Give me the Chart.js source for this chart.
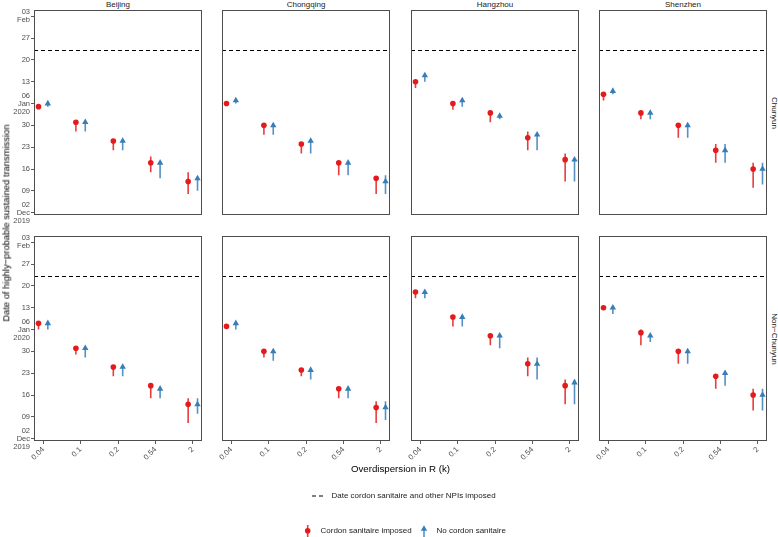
<!DOCTYPE html>
<html>
<head>
<meta charset="utf-8">
<script src="https://cdn.jsdelivr.net/npm/chart.js@4.4.1/dist/chart.umd.min.js"></script>
<style>
  body { margin: 0; background: #fff; }
  #fig { position: relative; width: 778px; height: 537px; overflow: hidden;
         font-family: "Liberation Sans", Arial, sans-serif; color: #1a1a1a; }
  #fig canvas { position: absolute; }
  .txt { position: absolute; white-space: nowrap; font-size: 8px; line-height: 1; }
</style>
</head>
<body>
<div id="fig"></div>
<script>
const cities = ['Beijing', 'Chongqing', 'Hangzhou', 'Shenzhen'];
const periods = ['Chunyun', 'Non\u2212Chunyun'];
const kLabels = ['0.04', '0.1', '0.2', '0.54', '2'];
const dateTicks = ['12-02', '12-09', '12-16', '12-23', '12-30', '01-06', '01-13', '01-20', '01-27', '02-03'];
const cordonDate = '01-23';

// rows: Beijing, Chongqing, Hangzhou, Shenzhen (Chunyun), then the same for Non-Chunyun
const cordonMid = [
  ['01-05', '12-31', '12-25', '12-18', '12-12'],
  ['01-06', '12-30', '12-24', '12-18', '12-13'],
  ['01-13', '01-06', '01-03', '12-26', '12-19'],
  ['01-09', '01-03', '12-30', '12-22', '12-16'],
  ['01-08', '12-31', '12-25', '12-19', '12-13'],
  ['01-07', '12-30', '12-24', '12-18', '12-12'],
  ['01-18', '01-10', '01-04', '12-26', '12-19'],
  ['01-13', '01-05', '12-30', '12-22', '12-16']
];
const cordonLow = [
  ['01-05', '12-28', '12-22', '12-15', '12-08'],
  ['01-06', '12-27', '12-21', '12-14', '12-08'],
  ['01-11', '01-04', '12-31', '12-22', '12-12'],
  ['01-07', '01-01', '12-26', '12-18', '12-10'],
  ['01-06', '12-29', '12-22', '12-15', '12-07'],
  ['01-07', '12-28', '12-22', '12-15', '12-07'],
  ['01-16', '01-07', '01-01', '12-22', '12-13'],
  ['01-13', '01-01', '12-26', '12-18', '12-11']
];
const cordonHigh = [
  ['01-05', '12-31', '12-25', '12-20', '12-15'],
  ['01-06', '12-30', '12-24', '12-18', '12-13'],
  ['01-13', '01-06', '01-03', '12-28', '12-21'],
  ['01-09', '01-03', '12-30', '12-24', '12-18'],
  ['01-08', '12-31', '12-25', '12-19', '12-15'],
  ['01-07', '12-30', '12-24', '12-18', '12-14'],
  ['01-18', '01-10', '01-04', '12-28', '12-21'],
  ['01-13', '01-06', '12-30', '12-22', '12-18']
];
const noCordonMid = [
  ['01-06', '12-31', '12-25', '12-18', '12-13'],
  ['01-07', '12-30', '12-25', '12-18', '12-12'],
  ['01-15', '01-07', '01-02', '12-27', '12-19'],
  ['01-10', '01-03', '12-30', '12-22', '12-16'],
  ['01-08', '12-31', '12-25', '12-18', '12-13'],
  ['01-08', '12-30', '12-24', '12-18', '12-12'],
  ['01-18', '01-10', '01-04', '12-26', '12-20'],
  ['01-13', '01-04', '12-30', '12-23', '12-16']
];
const noCordonLow = [
  ['01-05', '12-28', '12-22', '12-13', '12-09'],
  ['01-06', '12-27', '12-21', '12-14', '12-08'],
  ['01-13', '01-05', '01-01', '12-22', '12-12'],
  ['01-09', '01-01', '12-26', '12-18', '12-11'],
  ['01-06', '12-28', '12-22', '12-15', '12-10'],
  ['01-06', '12-27', '12-21', '12-15', '12-08'],
  ['01-16', '01-07', '12-31', '12-21', '12-13'],
  ['01-11', '01-02', '12-26', '12-19', '12-11']
];
const noCordonHigh = [
  ['01-06', '12-31', '12-25', '12-18', '12-13'],
  ['01-07', '12-30', '12-25', '12-18', '12-14'],
  ['01-15', '01-07', '01-02', '12-27', '12-19'],
  ['01-10', '01-03', '12-30', '12-24', '12-18'],
  ['01-08', '12-31', '12-25', '12-18', '12-15'],
  ['01-08', '12-30', '12-24', '12-18', '12-14'],
  ['01-18', '01-10', '01-04', '12-28', '12-21'],
  ['01-13', '01-04', '12-30', '12-23', '12-18']
];

const RED = '#E41A1C';
const BLUE = '#377EB8';
const monthNames = ['Jan', 'Feb', 'Mar', 'Apr', 'May', 'Jun', 'Jul', 'Aug', 'Sep', 'Oct', 'Nov', 'Dec'];

// days since 1 Dec 2019
function dayNum(s) {
  const [m, d] = s.split('-').map(Number);
  const t = m === 12 ? Date.UTC(2019, 11, d) : Date.UTC(2020, m - 1, d);
  return (t - Date.UTC(2019, 11, 1)) / 864e5;
}

function dateLabel(i) {
  const [m, d] = dateTicks[i].split('-');
  const prev = i > 0 ? dateTicks[i - 1].split('-')[0] : null;
  const lines = [d];
  if (m !== prev) lines.push(monthNames[Number(m) - 1]);
  if (prev === null || (m === '01' && prev === '12')) lines.push(m === '12' ? '2019' : '2020');
  return lines;
}

const xMin = -0.245, xMax = 4.245;
const yMin = 0.25, yMax = 66;
const dodge = 0.125;

const colLeft = [34, 222, 411, 599];
const rowTop = [10, 236];
const panelW = 168, panelH = 205;

const fig = document.getElementById('fig');

const panelBorder = {
  id: 'panelBorder',
  afterDraw(chart) {
    const { ctx, chartArea: a } = chart;
    ctx.save();
    ctx.strokeStyle = '#4d4d4d';
    ctx.lineWidth = 1;
    ctx.strokeRect(Math.round(a.left) + 0.5, Math.round(a.top) + 0.5,
      Math.round(a.right - a.left) - 1, Math.round(a.bottom - a.top) - 1);
    ctx.restore();
  }
};

function bars(lows, highs, shift) {
  const out = [];
  lows.forEach((lo, i) => {
    out.push({ x: i + shift, y: dayNum(lo) });
    out.push({ x: i + shift, y: dayNum(highs[i]) });
    out.push({ x: i + shift, y: null });
  });
  return out;
}

function points(mids, shift) {
  return mids.map((v, i) => ({ x: i + shift, y: dayNum(v) }));
}

function makePanel(r, c) {
  const p = r * 4 + c;
  const showY = c === 0, showX = r === 1;
  // room around the panel for tick labels (rotated k labels, "Dec 2019")
  const below = showX ? 24 : (showY ? 13 : 1);
  const before = showY ? colLeft[c] : (showX ? 14 : 1);
  const left = colLeft[c] - before;
  const top = rowTop[r] - 1;
  const width = colLeft[c] + panelW + 1 - left;
  const height = rowTop[r] + panelH + below - top;

  const canvas = document.createElement('canvas');
  canvas.width = width;
  canvas.height = height;
  canvas.style.left = left + 'px';
  canvas.style.top = top + 'px';
  canvas.style.width = width + 'px';
  canvas.style.height = height + 'px';
  fig.appendChild(canvas);

  const cut = dayNum(cordonDate);

  new Chart(canvas.getContext('2d'), {
    type: 'scatter',
    data: {
      datasets: [
        {
          data: points(noCordonMid[p], dodge),
          pointStyle: 'triangle', pointRadius: 3.7,
          backgroundColor: BLUE, borderColor: BLUE, borderWidth: 0
        },
        {
          data: points(cordonMid[p], -dodge),
          pointStyle: 'circle', pointRadius: 2.8,
          backgroundColor: RED, borderColor: RED, borderWidth: 0
        },
        {
          type: 'line', data: bars(noCordonLow[p], noCordonHigh[p], dodge),
          borderColor: 'rgba(55,126,184,0.85)', borderWidth: 1.6,
          pointRadius: 0, spanGaps: false
        },
        {
          type: 'line', data: bars(cordonLow[p], cordonHigh[p], -dodge),
          borderColor: 'rgba(228,26,28,0.85)', borderWidth: 1.6,
          pointRadius: 0, spanGaps: false
        },
        {
          type: 'line', data: [{ x: xMin, y: cut }, { x: xMax, y: cut }],
          borderColor: '#000', borderWidth: 1.1, borderDash: [4, 3],
          pointRadius: 0
        }
      ]
    },
    options: {
      responsive: false,
      animation: false,
      events: [],
      layout: {
        autoPadding: false,
        padding: { left: showY ? 0 : before, right: 1, top: 1, bottom: showX ? 0 : below }
      },
      plugins: {
        legend: { display: false },
        tooltip: { enabled: false }
      },
      scales: {
        x: {
          type: 'linear',
          min: xMin,
          max: xMax,
          display: showX,
          border: { display: false },
          grid: { drawOnChartArea: false, drawTicks: true, tickLength: 3, color: '#333', lineWidth: 0.8 },
          ticks: {
            autoSkip: false, minRotation: 45, maxRotation: 45, padding: 1,
            color: '#4d4d4d', font: { family: 'Liberation Sans', size: 7.6 },
            callback: (v, i) => kLabels[i]
          },
          afterBuildTicks(scale) {
            scale.ticks = kLabels.map((_, i) => ({ value: i }));
          },
          afterFit(scale) {
            if (!showX) return;
            scale.height = 24;
            scale.paddingLeft = 0;
            scale.paddingRight = 0;
          }
        },
        y: {
          type: 'linear',
          min: yMin,
          max: yMax,
          display: showY,
          border: { display: false },
          grid: { drawOnChartArea: false, drawTicks: true, tickLength: 3, color: '#333', lineWidth: 0.8 },
          ticks: {
            autoSkip: false, padding: 1,
            color: '#4d4d4d', font: { family: 'Liberation Sans', size: 7.5, lineHeight: 1.07 },
            callback: (v, i) => dateLabel(i)
          },
          afterBuildTicks(scale) {
            scale.ticks = dateTicks.map(d => ({ value: dayNum(d) }));
          },
          afterFit(scale) {
            if (!showY) return;
            scale.width = colLeft[0];
            scale.paddingTop = 0;
            scale.paddingBottom = 0;
          }
        }
      }
    },
    plugins: [panelBorder]
  });
}

for (let r = 0; r < 2; r++) {
  for (let c = 0; c < 4; c++) makePanel(r, c);
}

function addText(text, x, y, style) {
  const el = document.createElement('div');
  el.className = 'txt';
  el.textContent = text;
  el.style.left = x + 'px';
  el.style.top = y + 'px';
  Object.assign(el.style, style || {});
  fig.appendChild(el);
  return el;
}

// facet strips
cities.forEach((city, c) => {
  addText(city, colLeft[c] + panelW / 2, 4.5, { transform: 'translate(-50%, -50%)' });
});
periods.forEach((period, r) => {
  addText(period, 773.5, rowTop[r] + panelH / 2, { transform: 'translate(-50%, -50%) rotate(90deg)' });
});

// axis titles
addText('Date of highly\u2212probable sustained transmission', 6, 223,
  { transform: 'translate(-50%, -50%) rotate(-90deg)', fontSize: '9.4px', color: '#000' });
addText('Overdispersion in R (k)', 400.5, 469,
  { transform: 'translate(-50%, -50%)', fontSize: '9.7px', color: '#000' });

// legends
addText('Date cordon sanitaire and other NPIs imposed', 331.5, 496, { transform: 'translateY(-50%)' });
addText('Cordon sanitaire imposed', 320.5, 531, { transform: 'translateY(-50%)' });
addText('No cordon sanitaire', 436.5, 531, { transform: 'translateY(-50%)' });

const svgNS = 'http://www.w3.org/2000/svg';
const keys = document.createElementNS(svgNS, 'svg');
keys.setAttribute('width', 778);
keys.setAttribute('height', 537);
keys.style.position = 'absolute';
keys.style.left = '0px';
keys.style.top = '0px';
keys.innerHTML =
  '<line x1="312" y1="496" x2="325" y2="496" stroke="#000" stroke-width="1.1" stroke-dasharray="4 3"/>' +
  '<line x1="307.7" y1="525" x2="307.7" y2="537" stroke="' + RED + '" stroke-opacity="0.85" stroke-width="1.6"/>' +
  '<circle cx="307.7" cy="530.7" r="2.8" fill="' + RED + '"/>' +
  '<line x1="424" y1="527" x2="424" y2="537" stroke="' + BLUE + '" stroke-opacity="0.85" stroke-width="1.6"/>' +
  '<polygon points="424,525.2 427.2,530.7 420.8,530.7" fill="' + BLUE + '"/>';
fig.appendChild(keys);
</script>
</body>
</html>
